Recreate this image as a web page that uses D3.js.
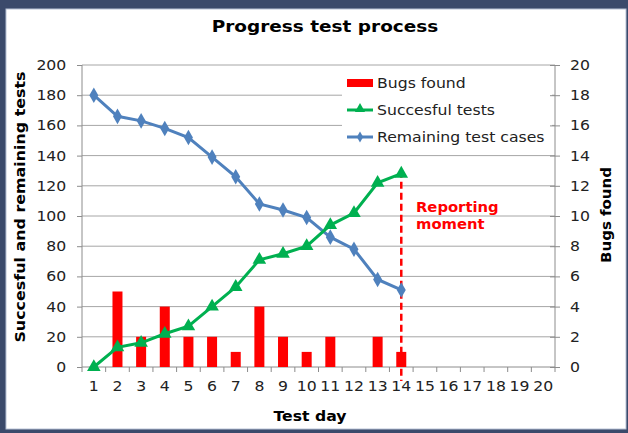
<!DOCTYPE html>
<html>
<head>
<meta charset="utf-8">
<title>Progress test process</title>
<script src="https://cdn.jsdelivr.net/npm/d3@7"></script>
<style>
  body { margin: 0; background: #3b4a6b; }
  svg { display: block; }
</style>
</head>
<body>
<div id="chart"></div>
<script>
// chart data
var days = d3.range(1, 21);
var remaining = [180, 166, 163, 158, 152, 139, 126, 108, 104, 99, 86, 78, 58, 51];
var successful = [0, 13, 16, 22, 27, 40, 53, 71, 75, 80, 94, 102, 122, 128];
var bugs = [0, 5, 2, 4, 2, 2, 1, 4, 2, 1, 2, 0, 2, 1];
var leftTicks = d3.range(0, 201, 20);
var rightTicks = d3.range(0, 21, 2);
var reportDay = 14;

var W = 628, H = 433;
var m = {left: 82, right: 73, top: 65, bottom: 66};
var font = "DejaVu Sans, Verdana, sans-serif";
var sx = 1.12; // the original text is a bit wider than DejaVu

var svg = d3.select("#chart").append("svg")
  .attr("width", W).attr("height", H);

// frame
svg.append("rect").attr("width", W).attr("height", H).attr("fill", "#3b4a6b");
svg.append("rect").attr("x", 6).attr("y", 9).attr("width", 620).attr("height", 420)
  .attr("fill", "#fff").attr("stroke", "#b8c2d6").attr("stroke-width", 1);

var x = d3.scaleBand().domain(days).range([m.left, W - m.right]);
var yL = d3.scaleLinear().domain([0, 200]).range([H - m.bottom, m.top]);
var yR = d3.scaleLinear().domain([0, 20]).range([H - m.bottom, m.top]);
var cx = function(i) { return x(i + 1) + x.bandwidth() / 2; };

// gridlines
svg.append("g").selectAll("line").data(leftTicks.slice(1)).enter().append("line")
  .attr("x1", m.left).attr("x2", W - m.right)
  .attr("y1", function(d) { return yL(d); }).attr("y2", function(d) { return yL(d); })
  .attr("stroke", "#a6a6a6").attr("stroke-width", 1);

// legend background hides the grid behind it
svg.append("rect").attr("x", 342).attr("y", 67).attr("width", 210).attr("height", 84)
  .attr("fill", "#fff");

// axes
var axL = svg.append("g").attr("transform", "translate(" + m.left + ",0)")
  .call(d3.axisLeft(yL).tickValues(leftTicks).tickSize(5).tickPadding(9));
var axR = svg.append("g").attr("transform", "translate(" + (W - m.right) + ",0)")
  .call(d3.axisRight(yR).tickValues(rightTicks).tickSize(5).tickPadding(8.5));
axR.selectAll(".tick line").attr("x1", -5);
var axB = svg.append("g").attr("transform", "translate(0," + (H - m.bottom) + ")")
  .call(d3.axisBottom(x).tickSize(0).tickPadding(14));
// category separators on x axis
svg.append("g").selectAll("line").data(days.concat([21])).enter().append("line")
  .attr("x1", function(d) { return m.left + (d - 1) * x.step(); })
  .attr("x2", function(d) { return m.left + (d - 1) * x.step(); })
  .attr("y1", H - m.bottom).attr("y2", H - m.bottom + 5)
  .attr("stroke", "#8c8c8c");

[axL, axR, axB].forEach(function(a) {
  a.select(".domain").attr("stroke", "#8c8c8c");
  a.selectAll(".tick line").attr("stroke", "#8c8c8c");
  a.selectAll("text").attr("fill", "#222").style("font-family", font)
    .style("font-size", "14px").attr("transform", "scale(" + sx + ",1)");
});
axR.select(".domain").attr("d", "M0," + yR(20) + "V" + yR(0));
axL.select(".domain").attr("d", "M0," + yL(200) + "V" + yL(0));
axB.select(".domain").attr("d", "M" + m.left + ",0H" + (W - m.right));

// bars
svg.append("g").selectAll("rect").data(bugs).enter().append("rect")
  .attr("x", function(d, i) { return cx(i) - 5; })
  .attr("width", 10)
  .attr("y", function(d) { return yR(d); })
  .attr("height", function(d) { return yR(0) - yR(d); })
  .attr("fill", "#ff0000");

// reporting moment
svg.append("line")
  .attr("x1", cx(reportDay - 1)).attr("x2", cx(reportDay - 1))
  .attr("y1", yL(130)).attr("y2", H - m.bottom + 14)
  .attr("stroke", "#ff0000").attr("stroke-width", 2.5).attr("stroke-dasharray", "7,4");

var line = function(vals) {
  return d3.line().x(function(d, i) { return cx(i); }).y(function(d) { return yL(d); })(vals);
};

// remaining test cases
svg.append("path").attr("d", line(remaining)).attr("fill", "none")
  .attr("stroke", "#4f81bd").attr("stroke-width", 3);
svg.append("g").selectAll("path").data(remaining).enter().append("path")
  .attr("d", d3.symbol(d3.symbolDiamond, 70)())
  .attr("transform", function(d, i) { return "translate(" + cx(i) + "," + yL(d) + ")"; })
  .attr("fill", "#4f81bd");

// successful tests
svg.append("path").attr("d", line(successful)).attr("fill", "none")
  .attr("stroke", "#00b050").attr("stroke-width", 3);
svg.append("g").selectAll("path").data(successful).enter().append("path")
  .attr("d", d3.symbol(d3.symbolTriangle, 80)())
  .attr("transform", function(d, i) { return "translate(" + cx(i) + "," + yL(d) + ")"; })
  .attr("fill", "#00b050");

function label(tx, ty, rot, size, bold, txt, anchor, color) {
  return svg.append("text")
    .attr("transform", "translate(" + tx + "," + ty + ") rotate(" + rot + ") scale(" + sx + ",1)")
    .attr("text-anchor", anchor || "middle")
    .attr("fill", color || "#000")
    .style("font-family", font).style("font-size", size + "px")
    .style("font-weight", bold ? "bold" : "normal")
    .text(txt);
}

// title and axis titles
label(325, 32, 0, 16.5, true, "Progress test process");
label(310, 421, 0, 14, true, "Test day");
label(25, 207, -90, 14.2, true, "Succesful and remaining tests");
label(611, 215, -90, 13.4, true, "Bugs found");
label(416, 212, 0, 13.2, true, "Reporting", "start", "#ff0000");
label(416, 229, 0, 13.2, true, "moment", "start", "#ff0000");

// legend
var leg = svg.append("g").attr("transform", "translate(347,83)");
leg.append("rect").attr("x", 0).attr("y", -4).attr("width", 26).attr("height", 8).attr("fill", "#ff0000");
leg.append("line").attr("x1", 0).attr("x2", 26).attr("y1", 27).attr("y2", 27)
  .attr("stroke", "#00b050").attr("stroke-width", 3);
leg.append("path").attr("d", d3.symbol(d3.symbolTriangle, 45)())
  .attr("transform", "translate(13,26)").attr("fill", "#00b050");
leg.append("line").attr("x1", 0).attr("x2", 26).attr("y1", 54).attr("y2", 54)
  .attr("stroke", "#4f81bd").attr("stroke-width", 3);
leg.append("path").attr("d", d3.symbol(d3.symbolDiamond, 35)())
  .attr("transform", "translate(13,54)").attr("fill", "#4f81bd");
leg.selectAll("text").data(["Bugs found", "Succesful tests", "Remaining test cases"]).enter()
  .append("text")
  .attr("transform", function(d, i) { return "translate(30," + (i * 27 + 5) + ") scale(" + sx + ",1)"; })
  .attr("fill", "#222")
  .style("font-family", font).style("font-size", "14px")
  .text(function(d) { return d; });
</script>
</body>
</html>
